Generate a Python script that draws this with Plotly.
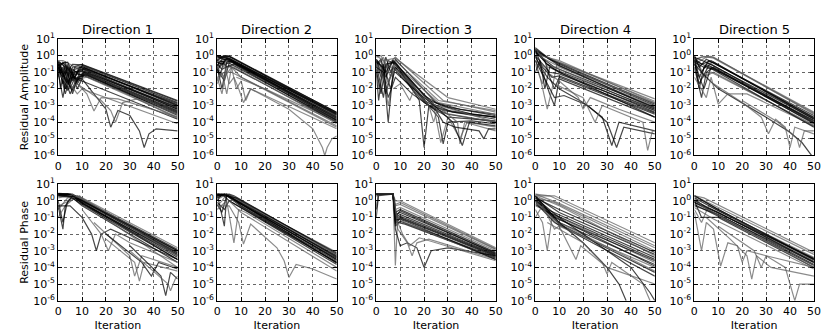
import plotly.graph_objects as go

# each line: (shade, [(iteration, residual), ...])
amp_dir1 = [
    ("k", [(0, 0.4), (2, 0.3), (4, 0.05), (6, 0.2), (10, 0.3), (50, 2e-3)]),
    ("k", [(0, 0.3), (2, 0.05), (4, 0.2), (7, 0.05), (10, 0.25), (50, 1.5e-3)]),
    ("k", [(0, 0.2), (1, 0.01), (3, 0.3), (5, 0.02), (7, 0.15), (10, 0.2), (50, 1.1e-3)]),
    ("k", [(0, 0.5), (3, 0.2), (5, 0.01), (8, 0.1), (11, 0.18), (50, 9e-4)]),
    ("k", [(0, 0.1), (2, 0.003), (4, 0.1), (6, 0.005), (9, 0.1), (11, 0.15), (50, 7e-4)]),
    ("k", [(0, 0.3), (4, 0.02), (6, 0.1), (8, 0.02), (11, 0.1), (50, 5e-4)]),
    ("k", [(0, 0.05), (1, 0.3), (3, 0.01), (5, 0.2), (8, 0.01), (11, 0.08), (50, 4e-4)]),
    ("k", [(0, 0.2), (2, 0.1), (5, 0.005), (8, 0.05), (11, 0.06), (50, 3e-4)]),
    ("g", [(0, 0.3), (3, 0.1), (6, 0.01), (9, 0.04), (12, 0.05), (50, 2e-4)]),
    ("g", [(0, 0.5), (2, 0.5), (5, 0.3), (10, 0.1), (50, 1.7e-4)]),
    ("k", [(0, 0.15), (3, 0.02), (6, 0.05), (10, 0.03), (50, 1.5e-4)]),
    ("k", [(0, 0.3), (4, 0.4), (6, 0.1), (10, 0.12), (50, 8e-4)]),
    ("k", [(0, 0.35), (2, 0.02), (4, 0.3), (6, 0.03), (9, 0.2), (50, 1.3e-3)]),
    ("k", [(0, 0.25), (3, 0.4), (5, 0.05), (7, 0.2), (10, 0.22), (50, 1e-3)]),
    ("k", [(0, 0.45), (2, 0.1), (4, 0.008), (7, 0.1), (10, 0.16), (50, 6e-4)]),
    ("k", [(0, 0.15), (2, 0.4), (5, 0.1), (8, 0.03), (11, 0.12), (50, 6e-4)]),
    ("k", [(0, 0.3), (3, 0.005), (6, 0.15), (9, 0.07), (11, 0.09), (50, 4.5e-4)]),
    ("k", [(0, 0.08), (2, 0.2), (4, 0.03), (7, 0.08), (11, 0.07), (50, 3.5e-4)]),
    ("k", [(0, 0.4), (1, 0.2), (3, 0.08), (6, 0.3), (10, 0.28), (50, 1.8e-3)]),
    ("k", [(0, 0.2), (3, 0.05), (6, 0.008), (9, 0.06), (12, 0.07), (50, 2.5e-4)]),
    ("k", [(0, 0.2), (3, 0.01), (6, 0.05), (10, 0.04), (20, 6e-4), (22, 5e-5), (25, 5e-4),
           (30, 2.5e-4), (34, 3e-5), (36, 3e-6), (38, 2e-5), (41, 4e-5), (50, 3e-5)]),
    ("g", [(0, 0.1), (5, 0.01), (8, 0.02), (12, 5e-3), (15, 4.7e-4), (18, 3e-3), (25, 2.5e-3), (50, 2e-4)]),
    ("g", [(8, 0.02), (18, 2e-3), (22, 5e-4), (24, 1e-4), (27, 1.5e-3), (33, 2.5e-3), (50, 3e-4)]),
    ("g", [(5, 0.02), (8, 0.005), (10, 0.01), (50, 8e-5)]),
]

amp_dir2 = [
    ("k", [(0, 0.8), (4, 1.0), (50, 4e-4)]),
    ("k", [(0, 0.5), (2, 0.8), (5, 0.9), (50, 3e-4)]),
    ("k", [(0, 0.3), (1, 0.05), (3, 0.6), (5, 0.7), (50, 2.5e-4)]),
    ("k", [(0, 0.9), (3, 0.6), (5, 0.6), (50, 2e-4)]),
    ("k", [(0, 0.2), (2, 0.01), (4, 0.4), (6, 0.5), (50, 1.6e-4)]),
    ("k", [(0, 0.4), (3, 0.3), (6, 0.4), (50, 1.3e-4)]),
    ("k", [(0, 0.1), (2, 0.5), (4, 0.2), (7, 0.3), (50, 1e-4)]),
    ("k", [(0, 0.6), (4, 0.8), (50, 3.5e-4)]),
    ("k", [(0, 0.7), (3, 0.9), (5, 0.95), (50, 3.8e-4)]),
    ("k", [(0, 0.4), (2, 0.3), (4, 0.7), (50, 2.8e-4)]),
    ("k", [(0, 0.6), (1, 0.2), (4, 0.6), (50, 2.2e-4)]),
    ("k", [(0, 0.25), (2, 0.6), (5, 0.5), (50, 1.8e-4)]),
    ("k", [(0, 0.9), (4, 0.7), (50, 3.2e-4)]),
    ("k", [(0, 0.15), (3, 0.03), (5, 0.35), (50, 1.2e-4)]),
    ("k", [(0, 0.5), (3, 0.4), (6, 0.45), (50, 1.4e-4)]),
    ("k", [(0, 0.3), (2, 0.15), (5, 0.25), (50, 1e-4)]),
    ("g", [(0, 0.05), (3, 0.1), (6, 0.1), (50, 6e-5)]),
    ("g", [(0, 0.05), (2, 0.005), (4, 0.2), (7, 0.2), (50, 8e-5)]),
    ("g", [(0, 0.02), (2, 0.1), (4, 0.005), (6, 0.2), (10, 0.05), (50, 5e-5)]),
    ("g", [(0, 0.03), (3, 0.3), (5, 0.02), (7, 0.05), (9, 0.01), (11, 1.5e-3), (14, 0.01),
           (30, 6e-4), (40, 4e-5), (44, 3e-6), (45, 1e-6), (46, 3e-6), (48, 1e-5), (50, 1.5e-5)]),
    ("g", [(0, 0.2), (3, 0.05), (6, 0.2), (8, 0.01), (10, 0.03), (12, 2e-3), (14, 0.01), (50, 4e-5)]),
    ("g", [(8, 0.05), (20, 0.01), (50, 1e-4)]),
]

amp_dir3 = [
    ("k", [(0, 0.5), (2, 0.05), (4, 0.8), (6, 0.1), (8, 0.6), (25, 1.5e-3), (35, 6e-4), (50, 3e-4)]),
    ("k", [(0, 0.3), (3, 0.003), (5, 0.3), (8, 0.4), (22, 1e-3), (30, 3e-4), (50, 1e-4)]),
    ("g", [(0, 0.8), (2, 1.0), (4, 0.2), (8, 0.8), (28, 2e-3), (50, 4e-4)]),
    ("g", [(0, 0.2), (2, 0.5), (5, 0.001), (8, 0.3), (26, 1.5e-3), (50, 3e-4)]),
    ("k", [(0, 0.3), (2, 0.6), (4, 0.05), (7, 0.5), (22, 2e-3), (30, 8e-4), (50, 2.5e-4)]),
    ("k", [(0, 0.5), (3, 0.05), (5, 0.5), (8, 0.3), (20, 2e-3), (28, 5e-4), (50, 1.5e-4)]),
    ("g", [(0, 0.2), (3, 0.8), (6, 0.05), (8, 0.5), (26, 2e-3), (50, 5e-4)]),
    ("k", [(0, 0.6), (2, 0.2), (4, 0.005), (7, 0.2), (20, 1.5e-3), (30, 2e-4), (50, 1.2e-4)]),
    ("g", [(0, 0.4), (1, 0.01), (3, 0.2), (8, 0.2), (18, 3e-3), (26, 4e-4), (50, 1e-4)]),
    ("k", [(0, 0.15), (2, 0.005), (4, 0.3), (7, 0.4), (24, 1.2e-3), (32, 4e-4), (50, 2e-4)]),
    ("k", [(0, 0.1), (1, 0.002), (3, 0.3), (6, 0.01), (8, 0.2), (20, 2e-3), (26, 2e-4), (28, 5e-6),
           (30, 1e-4), (40, 1.2e-4), (50, 8e-5)]),
    ("k", [(0, 0.4), (3, 0.2), (5, 1e-4), (7, 0.1), (9, 0.2), (18, 2e-3), (20, 3e-6), (22, 1e-3),
           (30, 5e-4), (50, 2e-4)]),
    ("g", [(0, 0.05), (2, 0.3), (4, 0.01), (8, 0.3), (24, 1e-3), (27, 6e-6), (30, 2e-4), (35, 1e-5),
           (38, 1e-4), (50, 5e-5)]),
    ("k", [(0, 0.6), (4, 0.1), (7, 0.5), (20, 4e-3), (27, 1e-3), (40, 3e-4), (50, 2e-4)]),
    ("g", [(0, 0.3), (4, 0.02), (8, 0.15), (20, 3e-3), (28, 5e-4), (34, 1e-4), (35, 5e-6), (37, 1e-4),
           (50, 3e-5)]),
    ("k", [(0, 0.2), (3, 0.1), (5, 0.003), (8, 0.05), (15, 5e-3), (25, 5e-4), (28, 1e-4), (33, 5e-5),
           (43, 3e-5), (45, 1e-5), (47, 4e-5), (50, 4e-5)]),
    ("g", [(0, 1.0), (3, 0.5), (8, 0.7), (30, 3e-3), (50, 6e-4)]),
    ("g", [(7, 0.01), (10, 0.02), (14, 2e-3), (16, 0.01), (22, 1e-3), (24, 1e-4), (26, 1e-3), (50, 1e-4)]),
    ("k", [(8, 0.1), (18, 5e-3), (25, 8e-4), (32, 1e-4), (36, 4e-6), (39, 1e-4), (50, 6e-5)]),
]

amp_dir4 = [
    ("k", [(0, 3.0), (5, 0.8), (10, 0.3), (50, 1e-3)]),
    ("g", [(0, 2.0), (8, 0.5), (50, 2.5e-3)]),
    ("g", [(0, 1.5), (10, 0.4), (50, 1.8e-3)]),
    ("k", [(0, 2.5), (4, 0.5), (6, 0.05), (8, 0.01), (10, 0.05), (50, 3e-4)]),
    ("k", [(0, 1.0), (3, 0.1), (6, 0.005), (8, 0.001), (10, 0.04), (50, 2e-4)]),
    ("g", [(0, 0.5), (2, 0.05), (5, 6e-4), (7, 0.01), (9, 0.3), (50, 6e-4)]),
    ("k", [(0, 1.5), (8, 0.2), (50, 8e-4)]),
    ("g", [(0, 0.3), (3, 0.02), (5, 0.3), (10, 0.15), (50, 5e-4)]),
    ("k", [(0, 2.0), (5, 0.3), (10, 0.1), (50, 4e-4)]),
    ("k", [(0, 2.5), (6, 0.6), (50, 1.2e-3)]),
    ("k", [(0, 1.8), (5, 0.3), (8, 0.15), (50, 6e-4)]),
    ("g", [(0, 1.2), (8, 0.3), (50, 1.4e-3)]),
    ("k", [(0, 2.0), (3, 0.2), (7, 0.05), (10, 0.06), (50, 3.5e-4)]),
    ("k", [(0, 1.0), (6, 0.1), (10, 0.08), (50, 5e-4)]),
    ("g", [(0, 0.5), (4, 0.2), (10, 0.2), (50, 9e-4)]),
    ("k", [(0, 2.2), (10, 0.25), (50, 7e-4)]),
    ("k", [(0, 0.8), (5, 0.05), (10, 0.01), (20, 1.5e-3), (28, 2e-4), (32, 4e-6), (35, 1e-4), (50, 3e-5)]),
    ("k", [(0, 0.5), (8, 0.003), (12, 0.004), (22, 1e-3), (30, 1e-4), (34, 3e-6), (37, 5e-5), (50, 2e-5)]),
    ("g", [(5, 0.1), (10, 0.03), (18, 3e-3), (20, 6e-4), (23, 3e-3), (35, 6e-4), (50, 1e-4)]),
    ("g", [(8, 0.02), (20, 3e-3), (25, 1e-4), (28, 1e-3), (45, 1e-4), (47, 2e-6), (49, 3e-5), (50, 3e-5)]),
    ("k", [(0, 0.1), (2, 0.5), (4, 0.01), (6, 0.2), (10, 0.1), (50, 2e-4)]),
    ("g", [(0, 3.0), (2, 1.0), (10, 0.5), (50, 1.5e-3)]),
]

amp_dir5 = [
    ("k", [(0, 1.0), (3, 0.1), (6, 0.5), (50, 2e-4)]),
    ("k", [(0, 0.8), (2, 0.05), (5, 0.3), (8, 0.4), (50, 1.5e-4)]),
    ("g", [(0, 0.5), (3, 0.8), (7, 0.9), (50, 4e-4)]),
    ("g", [(0, 0.3), (5, 0.8), (8, 0.8), (50, 3e-4)]),
    ("k", [(0, 0.6), (2, 0.01), (4, 0.2), (7, 0.3), (50, 1e-4)]),
    ("k", [(0, 0.2), (3, 0.003), (5, 0.1), (8, 0.2), (50, 8e-5)]),
    ("g", [(0, 0.1), (2, 0.3), (4, 0.05), (8, 0.1), (50, 6e-5)]),
    ("k", [(0, 0.4), (4, 0.2), (8, 0.15), (50, 1.2e-4)]),
    ("k", [(0, 0.9), (2, 0.2), (5, 0.6), (50, 2.5e-4)]),
    ("k", [(0, 0.7), (3, 0.3), (7, 0.5), (50, 1.8e-4)]),
    ("g", [(0, 0.6), (4, 0.9), (8, 0.7), (50, 3.5e-4)]),
    ("k", [(0, 0.5), (2, 0.02), (6, 0.25), (50, 1.3e-4)]),
    ("k", [(0, 0.3), (4, 0.01), (7, 0.2), (50, 9e-5)]),
    ("k", [(0, 0.8), (5, 0.4), (50, 1.6e-4)]),
    ("g", [(0, 0.15), (3, 0.05), (7, 0.1), (50, 7e-5)]),
    ("k", [(0, 0.3), (5, 0.05), (10, 0.01), (20, 1.5e-3), (30, 2e-4), (40, 2.5e-5), (45, 6e-6), (49, 1e-6)]),
    ("g", [(0, 0.05), (5, 0.003), (7, 0.05), (10, 1.2e-3), (14, 5e-3), (22, 5e-3), (50, 6e-5)]),
    ("g", [(8, 0.02), (20, 1.5e-3), (28, 2e-4), (31, 2e-5), (34, 1.5e-4), (38, 5e-5), (40, 3e-6),
           (42, 5e-5), (50, 2e-5)]),
    ("g", [(20, 2e-3), (35, 1e-4), (43, 1e-5), (44, 3e-6), (46, 3e-5), (50, 3e-5)]),
    ("k", [(0, 0.5), (6, 0.2), (50, 5e-5)]),
]

phase_dir1 = [
    ("k", [(0, 2.5), (5, 2.5), (10, 1.0), (50, 8e-4)]),
    ("k", [(0, 2.8), (6, 2.5), (10, 1.2), (50, 1.2e-3)]),
    ("g", [(0, 2.0), (8, 2.0), (10, 1.5), (50, 1.5e-3)]),
    ("k", [(0, 2.0), (4, 2.5), (10, 0.8), (50, 5e-4)]),
    ("k", [(0, 1.0), (2, 0.05), (4, 1.0), (7, 2.0), (10, 0.8), (50, 3e-4)]),
    ("g", [(0, 0.1), (3, 0.5), (8, 2.0), (10, 1.2), (50, 6e-4)]),
    ("k", [(0, 2.5), (5, 2.0), (10, 0.5), (50, 2e-4)]),
    ("g", [(0, 0.5), (5, 1.0), (9, 2.0), (12, 0.5), (50, 1e-4)]),
    ("k", [(0, 2.6), (5, 2.3), (10, 0.9), (50, 7e-4)]),
    ("k", [(0, 2.2), (6, 2.0), (10, 0.7), (50, 4e-4)]),
    ("k", [(0, 2.7), (4, 2.6), (10, 1.1), (50, 1e-3)]),
    ("g", [(0, 1.5), (6, 2.2), (10, 1.3), (50, 9e-4)]),
    ("k", [(0, 2.5), (5, 1.8), (10, 0.6), (50, 3e-4)]),
    ("k", [(0, 2.0), (7, 1.5), (10, 0.7), (50, 6e-4)]),
    ("g", [(0, 0.3), (4, 1.5), (9, 1.8), (50, 5e-4)]),
    ("k", [(0, 0.5), (5, 0.5), (10, 0.1), (14, 0.01), (16, 1e-3), (18, 0.01), (22, 0.02), (50, 3e-4)]),
    ("g", [(10, 0.3), (18, 0.01), (21, 1e-3), (24, 0.01), (30, 3e-3), (50, 2e-4)]),
    ("g", [(15, 0.05), (30, 5e-4), (32, 3e-5), (35, 5e-4), (50, 1e-4)]),
    ("g", [(20, 5e-3), (32, 2e-4), (34, 1.5e-5), (36, 2e-4), (50, 6e-5)]),
    ("k", [(20, 0.01), (35, 2e-4), (39, 3e-5), (42, 2e-4), (50, 8e-5)]),
    ("k", [(30, 2e-3), (43, 3e-5), (45, 2e-6), (47, 5e-5), (50, 2e-5)]),
    ("g", [(30, 1e-3), (46, 1e-5), (47, 4e-6), (49, 2e-5), (50, 3e-5)]),
    ("k", [(0, 0.5), (1, 0.1), (2, 0.02), (3, 0.5), (6, 2.0), (10, 1.0), (50, 1e-3)]),
]

phase_dir2 = [
    ("k", [(0, 2.5), (4, 2.5), (10, 0.8), (50, 5e-4)]),
    ("k", [(0, 2.0), (3, 2.5), (6, 1.5), (50, 3e-4)]),
    ("k", [(0, 1.0), (2, 2.5), (5, 1.0), (50, 2e-4)]),
    ("k", [(0, 2.5), (3, 0.03), (4, 2.0), (6, 2.0), (50, 4e-4)]),
    ("g", [(0, 0.5), (2, 1.0), (4, 2.5), (50, 8e-4)]),
    ("k", [(0, 2.0), (5, 2.5), (7, 2.0), (50, 6e-4)]),
    ("k", [(0, 0.8), (3, 0.3), (5, 1.0), (50, 1.5e-4)]),
    ("k", [(0, 2.2), (4, 2.4), (10, 0.7), (50, 4.5e-4)]),
    ("k", [(0, 1.5), (3, 2.5), (10, 0.6), (50, 3.5e-4)]),
    ("k", [(0, 2.5), (5, 2.2), (10, 0.5), (50, 2.5e-4)]),
    ("k", [(0, 2.0), (4, 2.0), (10, 0.45), (50, 2e-4)]),
    ("g", [(0, 1.2), (4, 2.5), (10, 0.9), (50, 6e-4)]),
    ("k", [(0, 2.4), (4, 2.3), (10, 0.65), (50, 3e-4)]),
    ("k", [(0, 0.6), (2, 0.2), (4, 2.2), (50, 1.8e-4)]),
    ("g", [(0, 0.3), (4, 1.0), (7, 0.003), (9, 0.3), (12, 0.2), (50, 1e-4)]),
    ("g", [(0, 0.5), (5, 0.5), (9, 0.05), (11, 2.5e-3), (14, 0.04), (25, 1.5e-3), (28, 2.5e-4),
           (30, 2.5e-5), (33, 1.5e-4), (40, 8e-5), (50, 2e-5)]),
    ("g", [(5, 1.0), (10, 0.2), (50, 6e-5)]),
    ("k", [(0, 2.5), (8, 1.5), (50, 7e-4)]),
]

phase_dir3 = [
    ("g", [(0, 2.5), (7, 2.5), (8, 1.0), (10, 1.0), (50, 1.5e-3)]),
    ("g", [(0, 2.5), (7, 2.5), (8, 0.5), (10, 0.6), (50, 1.2e-3)]),
    ("k", [(0, 2.5), (7, 2.5), (8, 0.2), (10, 0.3), (50, 8e-4)]),
    ("k", [(0, 2.5), (7, 2.5), (8, 0.1), (10, 0.15), (50, 6e-4)]),
    ("k", [(0, 2.0), (7, 2.5), (8, 0.05), (10, 0.1), (50, 5e-4)]),
    ("k", [(0, 0.1), (1, 2.5), (7, 2.5), (8, 0.03), (10, 0.06), (50, 4e-4)]),
    ("k", [(0, 2.5), (7, 2.5), (8, 0.15), (10, 0.2), (50, 7e-4)]),
    ("k", [(0, 2.5), (7, 2.5), (8, 0.08), (10, 0.12), (50, 5.5e-4)]),
    ("g", [(0, 2.5), (7, 2.5), (8, 0.3), (10, 0.4), (50, 1e-3)]),
    ("k", [(0, 2.3), (7, 2.5), (8, 0.04), (10, 0.09), (50, 4.5e-4)]),
    ("k", [(0, 2.5), (7, 2.5), (8, 0.1), (10, 0.25), (50, 6.5e-4)]),
    ("g", [(0, 2.5), (7, 2.5), (8, 0.6), (10, 0.8), (50, 1.3e-3)]),
    ("k", [(0, 0.3), (1, 2.5), (7, 2.5), (9, 0.05), (12, 0.04), (50, 3.5e-4)]),
    ("g", [(0, 2.5), (7, 2.5), (8, 1.3e-4), (9, 0.1), (12, 0.05), (50, 3e-4)]),
    ("k", [(0, 2.5), (7, 2.5), (8, 0.02), (10, 2e-3), (13, 3e-3), (17, 1.5e-3), (20, 1e-4), (23, 1e-3),
           (30, 1.5e-3), (50, 5e-4)]),
    ("g", [(0, 2.5), (7, 2.5), (9, 0.02), (13, 3e-3), (15, 5e-4), (17, 3e-3), (22, 5e-3), (50, 3e-4)]),
    ("g", [(0, 0.5), (1, 2.5), (7, 2.5), (9, 0.05), (11, 0.01), (14, 2e-3), (18, 6e-3), (50, 2.5e-4)]),
    ("k", [(0, 2.5), (7, 2.5), (8, 0.07), (10, 0.08), (50, 3e-4)]),
]

phase_dir4 = [
    ("g", [(0, 2.0), (8, 2.0), (50, 3e-3)]),
    ("g", [(0, 2.5), (6, 2.0), (50, 2e-3)]),
    ("k", [(0, 1.5), (10, 0.3), (50, 8e-4)]),
    ("k", [(0, 1.0), (5, 0.3), (50, 4e-4)]),
    ("g", [(0, 0.5), (10, 0.1), (50, 2e-4)]),
    ("k", [(0, 2.0), (4, 0.3), (10, 0.05), (50, 1.5e-4)]),
    ("k", [(0, 1.8), (10, 0.2), (50, 6e-4)]),
    ("k", [(0, 1.2), (6, 0.2), (50, 3e-4)]),
    ("g", [(0, 2.5), (10, 0.7), (50, 1.5e-3)]),
    ("k", [(0, 2.0), (8, 0.1), (50, 2.5e-4)]),
    ("k", [(0, 0.6), (10, 0.08), (50, 1.2e-4)]),
    ("g", [(0, 1.5), (8, 0.8), (50, 1e-3)]),
    ("k", [(0, 1.0), (10, 0.04), (50, 5e-5)]),
    ("g", [(0, 0.3), (3, 0.05), (5, 1e-3), (7, 0.1), (10, 0.05), (50, 6e-5)]),
    ("k", [(0, 2.0), (10, 0.05), (20, 3e-3), (30, 1e-4), (35, 1e-5), (38, 1e-6)]),
    ("g", [(0, 1.0), (10, 0.03), (17, 3e-4), (19, 2e-3), (30, 1e-4), (50, 1e-5)]),
    ("g", [(5, 0.05), (20, 3e-3), (28, 2e-4), (30, 4e-5), (32, 2e-4), (45, 1e-5), (48, 1e-6)]),
    ("k", [(0, 1.5), (10, 0.1), (40, 1e-4), (48, 3e-6), (50, 1e-6)]),
    ("k", [(0, 0.8), (8, 0.05), (50, 3e-5)]),
    ("g", [(0, 0.1), (3, 0.5), (8, 0.02), (10, 0.03), (50, 1e-4)]),
    ("g", [(0, 2.0), (10, 0.5), (50, 5e-4)]),
]

phase_dir5 = [
    ("k", [(0, 2.0), (10, 0.3), (50, 3e-4)]),
    ("g", [(0, 2.0), (4, 1.5), (50, 8e-4)]),
    ("k", [(0, 1.0), (10, 0.2), (50, 2e-4)]),
    ("k", [(0, 0.5), (10, 0.15), (50, 1.5e-4)]),
    ("g", [(0, 0.3), (3, 0.05), (6, 0.5), (50, 4e-4)]),
    ("k", [(0, 1.0), (3, 0.1), (10, 0.1), (50, 1e-4)]),
    ("k", [(0, 1.5), (10, 0.25), (50, 2.8e-4)]),
    ("k", [(0, 0.8), (10, 0.2), (50, 2.3e-4)]),
    ("k", [(0, 1.2), (5, 0.4), (50, 3.5e-4)]),
    ("g", [(0, 2.0), (10, 0.4), (50, 6e-4)]),
    ("k", [(0, 0.6), (10, 0.12), (50, 1.3e-4)]),
    ("k", [(0, 2.0), (10, 0.3), (50, 3.2e-4)]),
    ("g", [(0, 0.4), (8, 0.08), (50, 8e-5)]),
    ("g", [(0, 0.2), (3, 1e-3), (5, 0.05), (8, 0.02), (11, 1.2e-4), (14, 3e-3), (18, 2e-3), (20, 2e-4),
           (22, 1e-3), (30, 5e-4), (50, 1e-4)]),
    ("g", [(5, 0.1), (15, 5e-3), (22, 5e-4), (24, 2e-5), (26, 5e-4), (32, 1e-4), (50, 3e-5)]),
    ("g", [(10, 0.03), (25, 1e-3), (28, 1e-4), (30, 5e-4), (38, 1e-4), (42, 1e-6), (44, 1e-5), (50, 1e-5)]),
    ("k", [(0, 0.8), (8, 0.2), (50, 2e-4)]),
    ("g", [(0, 2.0), (3, 0.5), (50, 1e-4)]),
]

titles = ["Direction 1", "Direction 2", "Direction 3", "Direction 4", "Direction 5"]
row_labels = ["Residual Amplitude", "Residual Phase"]
y_tickvals = [1e-6, 1e-5, 1e-4, 1e-3, 1e-2, 1e-1, 1, 10]
y_ticktext = ["10<sup>-6</sup>", "10<sup>-5</sup>", "10<sup>-4</sup>", "10<sup>-3</sup>",
              "10<sup>-2</sup>", "10<sup>-1</sup>", "10<sup>0</sup>", "10<sup>1</sup>"]

panels = [[amp_dir1, amp_dir2, amp_dir3, amp_dir4, amp_dir5],
          [phase_dir1, phase_dir2, phase_dir3, phase_dir4, phase_dir5]]

W, H = 830, 336
shade = {"k": "rgba(0,0,0,0.72)", "g": "rgba(90,90,90,0.7)"}
font = "DejaVu Sans"

fig = go.Figure()
layout = dict(width=W, height=H, margin=dict(l=0, r=0, t=0, b=0),
              plot_bgcolor="white", paper_bgcolor="white", showlegend=False,
              font=dict(family=font, size=11, color="black"))
annotations = []

for r in range(2):
    top_px = 24 if r == 0 else 176
    bot_px = top_px + 122
    for c in range(5):
        idx = r * 5 + c + 1
        sfx = "" if idx == 1 else str(idx)
        left_px = 47.7 + 161 * c
        xa = dict(domain=[left_px / W, (left_px + 121) / W], anchor="y" + sfx,
                  range=[0, 50], dtick=10, showgrid=True, gridcolor="#666", griddash="dot", gridwidth=0.6,
                  showline=True, linecolor="black", linewidth=1, mirror="ticks",
                  ticks="inside", ticklen=4, tickcolor="black", zeroline=False,
                  tickfont=dict(size=11))
        ya = dict(domain=[1 - bot_px / H, 1 - top_px / H], anchor="x" + sfx,
                  type="log", range=[-6, 1], tickvals=y_tickvals, ticktext=y_ticktext,
                  showgrid=True, gridcolor="#666", griddash="dot", gridwidth=0.6,
                  showline=True, linecolor="black", linewidth=1, mirror="ticks",
                  ticks="inside", ticklen=4, tickcolor="black", zeroline=False,
                  tickfont=dict(size=11))
        if r == 1:
            xa["title"] = dict(text="Iteration", font=dict(size=11), standoff=4)
        if c == 0:
            ya["title"] = dict(text=row_labels[r], font=dict(size=11), standoff=2)
        layout["xaxis" + sfx] = xa
        layout["yaxis" + sfx] = ya
        for tone, pts in panels[r][c]:
            fig.add_trace(go.Scatter(x=[p[0] for p in pts], y=[p[1] for p in pts], mode="lines",
                                     line=dict(color=shade[tone], width=1.2),
                                     xaxis="x" + sfx, yaxis="y" + sfx, hoverinfo="skip"))
        if r == 0:
            annotations.append(dict(text=titles[c], x=(left_px + 60.5) / W, y=1 - 14 / H,
                                    xref="paper", yref="paper", showarrow=False,
                                    font=dict(size=13), xanchor="center", yanchor="middle"))

layout["annotations"] = annotations
fig.update_layout(**layout)
fig.write_html("out.html")
